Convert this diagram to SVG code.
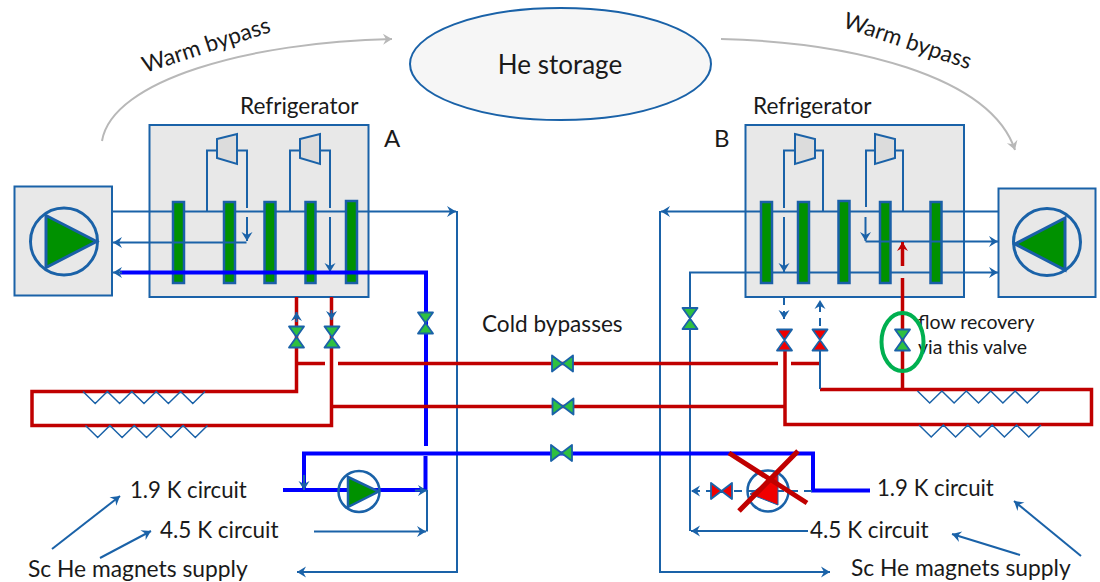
<svg xmlns="http://www.w3.org/2000/svg" width="1100" height="582" viewBox="0 0 1100 582">
<style>
text{font-family:"Lato","Carlito","Open Sans",sans-serif;font-size:22.600px;fill:#1a1a1a}
.box{fill:#e8e8e8;stroke:#1a62a8;stroke-width:2}
.hx{fill:#009100;stroke:#1a5fa8;stroke-width:2.500}
.th{fill:none;stroke:#1a62a8;stroke-width:2}
.red{fill:none;stroke:#c00000;stroke-width:3.500}
.blue{fill:none;stroke:#0000ff;stroke-width:4}
.gray{fill:none;stroke:#b8b8b8;stroke-width:2}
.turb{fill:#dcdcdc;stroke:#1a62a8;stroke-width:2}
.vg{fill:#2fc040;stroke:#1a62a8;stroke-width:1.800;stroke-linejoin:round}
.vr{fill:#f00000;stroke:#1a62a8;stroke-width:1.800;stroke-linejoin:round}
</style>
<defs>
<marker id="a" markerUnits="userSpaceOnUse" markerWidth="14" markerHeight="14" refX="10" refY="7" orient="auto"><path d="M1 1.500L10 7L1 12.500L4 7Z" fill="#1a62a8"/></marker>
<marker id="g" markerUnits="userSpaceOnUse" markerWidth="14" markerHeight="14" refX="10" refY="7" orient="auto"><path d="M1 1.500L10 7L1 12.500L4 7Z" fill="#b8b8b8"/></marker>
<marker id="r" markerUnits="userSpaceOnUse" markerWidth="14" markerHeight="14" refX="10" refY="7" orient="auto"><path d="M1 1.500L10 7L1 12.500L4 7Z" fill="#c00000"/></marker>
<g id="vv"><path d="M-7.500 -10.500L7.500 -10.500L0 0Z M-7.500 10.500L7.500 10.500L0 0Z"/></g>
<g id="vh"><path d="M-10.500 -8L0 0L-10.500 8Z M10.500 -8L0 0L10.500 8Z"/></g>
<path id="zz" d="M0 0L12.200 12L24.400 0L36.600 12L48.800 0L61 12L73.200 0L85.400 12L97.600 0L109.800 12L122 0" fill="none" stroke="#1a62a8" stroke-width="1.500"/>
</defs>

<g id="he-storage"><ellipse cx="560.500" cy="64" rx="150.500" ry="56" fill="#f6f6f6" stroke="#1a62a8" stroke-width="2"/><text x="560" y="74" text-anchor="middle" style="font-size:26px">He storage</text></g>
<g id="fridge-a-box"><rect class="box" x="149.500" y="125" width="219" height="172"/></g>
<g id="fridge-b-box"><rect class="box" x="745.500" y="125" width="218.500" height="172"/></g>
<g id="compressor-a"><rect class="box" x="14.500" y="186.500" width="97.500" height="109"/><circle cx="64" cy="241.500" r="33.500" fill="none" stroke="#1a62a8" stroke-width="3"/><path d="M46 215.500L96.500 241.500L46 267.500Z" fill="#009100" stroke="#1a5fa8" stroke-width="3"/></g>
<g id="compressor-b"><rect class="box" x="998.500" y="188.500" width="97" height="108.500"/><circle cx="1047" cy="242" r="33.500" fill="none" stroke="#1a62a8" stroke-width="3"/><path d="M1065 218L1015 244L1065 270Z" fill="#009100" stroke="#1a5fa8" stroke-width="3"/></g>

<g id="connectors-behind">
<path class="th" marker-end="url(#a)" d="M112 211.500H456"/>
<path class="th" marker-end="url(#a)" d="M998 211.500H661"/>
<path class="th" marker-end="url(#a)" d="M690 531V272.500H998"/>
</g>

<g id="hx-a"><rect class="hx" x="173" y="202" width="11" height="81"/><rect class="hx" x="224" y="202" width="11" height="81"/><rect class="hx" x="264.500" y="202" width="11" height="81"/><rect class="hx" x="305.500" y="202" width="10" height="81"/><rect class="hx" x="346" y="201" width="11" height="82"/></g>
<g id="hx-b"><rect class="hx" x="761" y="202" width="11" height="81"/><rect class="hx" x="798" y="202" width="11" height="81"/><rect class="hx" x="838.500" y="201" width="11" height="82"/><rect class="hx" x="880" y="202" width="10.500" height="81"/><rect class="hx" x="930.500" y="202" width="11" height="81"/></g>

<g id="connectors">
<path class="gray" marker-end="url(#g)" d="M102 141C112 80 250 42 392 39"/>
<path class="gray" marker-end="url(#g)" d="M721 39C850 42 990 75 1015 150"/>
<path class="th" marker-end="url(#a)" d="M457 211V572H297"/>
<path class="th" marker-end="url(#a)" d="M246.500 242.500H113"/>
<path class="th" d="M207 211V150.500H217M237 150.500H247V208"/>
<path class="th" marker-end="url(#a)" d="M247 217V241"/>
<path class="th" d="M290 211V150.500H300M320 150.500H330V208"/>
<path class="th" marker-end="url(#a)" d="M330 217V272"/>
<path class="th" marker-end="url(#a)" d="M660 211V572H830"/>
<path class="th" d="M784 208V150.500H795M815 150.500H823V211"/>
<path class="th" marker-end="url(#a)" d="M784 217V272"/>
<path class="th" d="M866 207V150.500H875M895 150.500H903V211"/>
<path class="th" marker-end="url(#a)" d="M865.500 217V241"/>
<path class="th" marker-end="url(#a)" d="M865.500 241.500H998"/>
<path class="th" marker-end="url(#a)" d="M808 531H691"/>
<path class="th" d="M427 490V531.500"/>
<path class="th" marker-end="url(#a)" d="M314 531.500H426"/>
<path class="th" marker-end="url(#a)" d="M52 549L120 496"/>
<path class="th" marker-end="url(#a)" d="M100 558L151 531"/>
<path class="th" marker-end="url(#a)" d="M1081 556L1014 501"/>
<path class="th" marker-end="url(#a)" d="M1020 555L952 534"/>

<path class="blue" d="M120 272.500H426V446M425.500 456V490"/>
<path class="th" marker-end="url(#a)" d="M122 272.500H113"/>
<path class="blue" d="M283 490H424"/>
<path class="th" marker-end="url(#a)" d="M415 490.500H427"/>
<path class="blue" d="M304 490V453.500H813V490.500H870"/>
<path class="th" marker-end="url(#a)" d="M304 475V490"/>

<path class="red" d="M296.500 297V391.500H32V425.500H331.500V297"/>
<path class="red" d="M296.500 363.500H325M338 363.500H778M791 363.500H819"/>
<path class="red" d="M331.500 406.500H785"/>
<path class="red" d="M785 350V424.500H1091.500V389.500H820"/>
<path class="red" d="M902.500 389V278M902.500 266V245"/>
<path class="th" marker-end="url(#r)" d="M902.500 262V242" style="stroke:#c00000;stroke-width:3"/>
<path class="th" d="M820 350V389"/>
<path class="th" marker-end="url(#a)" d="M296.500 322V312"/>
<path class="th" marker-end="url(#a)" d="M331.500 310V320"/>
<path class="th" stroke-dasharray="8 6" marker-end="url(#a)" d="M784 297V319"/>
<path class="th" stroke-dasharray="8 6" marker-end="url(#a)" d="M820 326V300"/>
<path class="th" stroke-dasharray="8 6" marker-end="url(#a)" d="M812 491H691"/>

<use href="#zz" x="83" y="391.500"/>
<use href="#zz" x="85.500" y="425.500"/>
<use href="#zz" x="917.500" y="391"/>
<use href="#zz" x="919" y="425"/>
</g>

<g id="turbines">
<path class="turb" d="M217 139L237 134V164L217 158Z"/>
<path class="turb" d="M300 139L320 134V164L300 158Z"/>
<path class="turb" d="M795 134L815 139V158L795 164Z"/>
<path class="turb" d="M875 134L895 139V158L875 164Z"/>
</g>

<g id="pump-1"><circle cx="359" cy="491.500" r="20.500" fill="none" stroke="#1a62a8" stroke-width="2.500"/><path d="M348 477L378.500 491.500L348 507Z" fill="#009100" stroke="#1a5fa8" stroke-width="2.500"/></g>
<g id="pump-2"><circle cx="768" cy="491" r="20.500" fill="none" stroke="#1a62a8" stroke-width="2.500"/><path d="M750 494L778 475V505Z" fill="#f00000" stroke="#1a5fa8" stroke-width="1"/></g>
<g id="cross"><path d="M729 453L807 503M798 451L739 511" fill="none" stroke="#c00000" stroke-width="5"/></g>

<g id="valve-a1"><use href="#vv" class="vg" x="296.500" y="337"/></g>
<g id="valve-a2"><use href="#vv" class="vg" x="332" y="337"/></g>
<g id="valve-a3"><use href="#vv" class="vg" x="425.500" y="323"/></g>
<g id="valve-b0"><use href="#vv" class="vg" x="690" y="318.500"/></g>
<g id="valve-b1"><use href="#vv" class="vr" x="784.500" y="340"/></g>
<g id="valve-b2"><use href="#vv" class="vr" x="820" y="340"/></g>
<g id="valve-b3"><use href="#vv" class="vg" x="902.500" y="340"/></g>
<g id="valve-c1"><use href="#vh" class="vg" x="562.500" y="363.500"/></g>
<g id="valve-c2"><use href="#vh" class="vg" x="563" y="406.500"/></g>
<g id="valve-c3"><use href="#vh" class="vg" x="561.500" y="453"/></g>
<g id="valve-d"><use href="#vh" class="vr" x="721.500" y="491"/></g>

<g id="labels">
<text transform="translate(145 73) rotate(-18)">Warm bypass</text>
<text transform="translate(842 27) rotate(18.500)">Warm bypass</text>
<text x="240" y="114">Refrigerator</text>
<text x="753" y="114">Refrigerator</text>
<text x="384" y="147" style="font-size:24px">A</text>
<text x="714" y="147" style="font-size:24px">B</text>
<text x="482" y="332">Cold bypasses</text>
<text x="918" y="329" style="font-size:19.500px">flow recovery</text>
<text x="918" y="354" style="font-size:19.500px">via this valve</text>
<text x="130" y="498" style="font-size:22.200px">1.9 K circuit</text>
<text x="160" y="538" style="font-size:22.500px">4.5 K circuit</text>
<text x="28" y="577" style="font-size:22.800px">Sc He magnets supply</text>
<text x="877" y="496" style="font-size:22.200px">1.9 K circuit</text>
<text x="810" y="538" style="font-size:22.500px">4.5 K circuit</text>
<text x="851" y="576" style="font-size:22.800px">Sc He magnets supply</text>
</g>
<g id="recovery-ring"><ellipse cx="902.500" cy="342" rx="21" ry="29" fill="none" stroke="#00b050" stroke-width="4"/></g>
</svg>
